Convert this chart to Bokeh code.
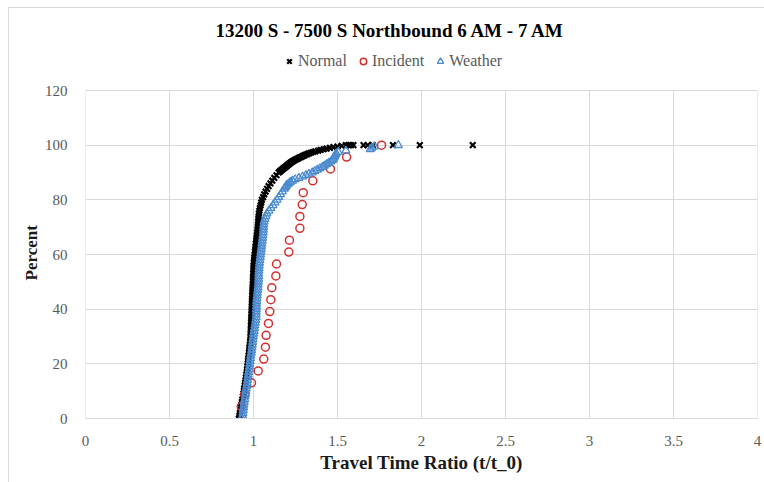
from bokeh.plotting import figure
from bokeh.models import Range1d, FixedTicker, Label, Legend, LegendItem, Title
from bokeh.embed import file_html
from bokeh.resources import INLINE

title_text = "13200 S - 7500 S Northbound  6 AM - 7 AM"
x_label = "Travel Time Ratio (t/t_0)"
y_label = "Percent"
series_names = ["Normal", "Incident", "Weather"]
x_ticks = [0, 0.5, 1, 1.5, 2, 2.5, 3, 3.5, 4]
x_tick_labels = ["0", "0.5", "1", "1.5", "2", "2.5", "3", "3.5", "4"]
y_ticks = [0, 20, 40, 60, 80, 100, 120]

normal_ratio = [
    0.913, 0.916, 0.919, 0.922, 0.925, 0.928, 0.931, 0.934, 0.937, 0.940,
    0.943, 0.945, 0.948, 0.950, 0.953, 0.955, 0.957, 0.960, 0.962, 0.964,
    0.966, 0.967, 0.969, 0.971, 0.973, 0.975, 0.976, 0.978, 0.980, 0.982,
    0.983, 0.983, 0.984, 0.985, 0.985, 0.986, 0.987, 0.987, 0.988, 0.989,
    0.989, 0.990, 0.991, 0.991, 0.992, 0.993, 0.994, 0.994, 0.995, 0.996,
    0.997, 0.997, 0.998, 0.999, 1.000, 1.000, 1.001, 1.002, 1.004, 1.005,
    1.007, 1.009, 1.011, 1.012, 1.014, 1.016, 1.018, 1.020, 1.022, 1.024,
    1.025, 1.027, 1.028, 1.029, 1.031, 1.032, 1.035, 1.038, 1.042, 1.046,
    1.050, 1.057, 1.064, 1.072, 1.081, 1.090, 1.101, 1.112, 1.124, 1.137,
    1.150,
    1.155, 1.159, 1.164, 1.169, 1.174, 1.179, 1.184, 1.189,
    1.194, 1.199, 1.204, 1.209, 1.214, 1.219, 1.225, 1.230,
    1.237, 1.245, 1.252, 1.260, 1.268, 1.276, 1.285, 1.293,
    1.302, 1.311, 1.320, 1.330, 1.342, 1.355, 1.368, 1.385,
    1.400, 1.418, 1.435, 1.455, 1.475, 1.500, 1.525, 1.550,
    1.565, 1.580, 1.595, 1.655, 1.680, 1.710, 1.830, 1.990, 2.305,
]
normal_pct = [
    0, 1, 2, 3, 4, 5, 6, 7, 8, 9,
    10, 11, 12, 13, 14, 15, 16, 17, 18, 19,
    20, 21, 22, 23, 24, 25, 26, 27, 28, 29,
    30, 31, 32, 33, 34, 35, 36, 37, 38, 39,
    40, 41, 42, 43, 44, 45, 46, 47, 48, 49,
    50, 51, 52, 53, 54, 55, 56, 57, 58, 59,
    60, 61, 62, 63, 64, 65, 66, 67, 68, 69,
    70, 71, 72, 73, 74, 75, 76, 77, 78, 79,
    80, 81, 82, 83, 84, 85, 86, 87, 88, 89,
    90,
    90.25, 90.5, 90.75, 91, 91.25, 91.5, 91.75, 92,
    92.25, 92.5, 92.75, 93, 93.25, 93.5, 93.75, 94,
    94.25, 94.5, 94.75, 95, 95.25, 95.5, 95.75, 96,
    96.25, 96.5, 96.75, 97, 97.25, 97.5, 97.75, 98,
    98.25, 98.5, 98.75, 99, 99.25, 99.5, 99.75, 100,
    100, 100, 100, 100, 100, 100, 100, 100, 100,
]

incident_ratio = [
    0.927, 0.948, 0.988, 1.028, 1.061, 1.071, 1.075, 1.089, 1.097, 1.103,
    1.109, 1.133, 1.137, 1.210, 1.214, 1.276, 1.276, 1.290, 1.296, 1.353,
    1.458, 1.554, 1.762,
]
incident_pct = [
    4.35, 8.70, 13.04, 17.39, 21.74, 26.09, 30.43, 34.78, 39.13, 43.48,
    47.83, 52.17, 56.52, 60.87, 65.22, 69.57, 73.91, 78.26, 82.61, 86.96,
    91.30, 95.65, 100,
]

weather_ratio = [
    0.933, 0.935, 0.937, 0.939, 0.941, 0.943, 0.945, 0.948, 0.950, 0.953,
    0.955, 0.957, 0.960, 0.962, 0.964, 0.967, 0.969, 0.971, 0.974, 0.976,
    0.978, 0.980, 0.982, 0.984, 0.987, 0.989, 0.991, 0.993, 0.995, 0.997,
    0.999, 1.001, 1.004, 1.006, 1.008, 1.011, 1.013, 1.016, 1.016, 1.017,
    1.017, 1.018, 1.018, 1.019, 1.020, 1.022, 1.023, 1.025, 1.027, 1.028,
    1.030, 1.030, 1.031, 1.031, 1.032, 1.033, 1.034, 1.036, 1.038, 1.040,
    1.042, 1.044, 1.046, 1.048, 1.050, 1.052, 1.054, 1.056, 1.058, 1.059,
    1.060, 1.061, 1.063, 1.068, 1.074, 1.080, 1.092, 1.104, 1.116, 1.128,
    1.140, 1.150, 1.161, 1.172, 1.183,
    1.188, 1.194, 1.200, 1.210, 1.220, 1.232, 1.248, 1.270, 1.292, 1.312,
    1.330, 1.350, 1.365, 1.380, 1.395, 1.410, 1.422, 1.435, 1.447, 1.460,
    1.470, 1.476, 1.480, 1.484, 1.488, 1.492, 1.505, 1.550, 1.695, 1.705,
    1.720, 1.862,
]
weather_pct = [
    0, 1, 2, 3, 4, 5, 6, 7, 8, 9,
    10, 11, 12, 13, 14, 15, 16, 17, 18, 19,
    20, 21, 22, 23, 24, 25, 26, 27, 28, 29,
    30, 31, 32, 33, 34, 35, 36, 37, 38, 39,
    40, 41, 42, 43, 44, 45, 46, 47, 48, 49,
    50, 51, 52, 53, 54, 55, 56, 57, 58, 59,
    60, 61, 62, 63, 64, 65, 66, 67, 68, 69,
    70, 71, 72, 73, 74, 75, 76, 77, 78, 79,
    80, 81, 82, 83, 84,
    84.5, 85, 85.5, 86, 86.5, 87, 87.5, 88, 88.5, 89,
    89.5, 90, 90.5, 91, 91.5, 92, 92.5, 93, 93.5, 94,
    94.5, 95, 95.5, 96, 96.5, 97, 97.5, 98, 98.5, 99,
    99.5, 100,
]

SERIF = "Liberation Serif"
GRID = "#D9D9D9"

# The frame reaches up to the chart's top edge so that the title and the
# legend can sit inside it; the value axis itself only spans 0..120.
p = figure(
    width=756, height=475, title=None,
    x_range=Range1d(0, 4), y_range=Range1d(0, 150),
    output_backend="svg", toolbar_location=None,
    min_border_left=76, min_border_right=8, min_border_top=0, min_border_bottom=65,
    styles={"margin-left": "8px", "margin-top": "7px",
            "border-left": "1px solid #D9D9D9", "border-top": "1px solid #D9D9D9"},
)
p.outline_line_color = None
p.background_fill_color = "white"
p.border_fill_color = "white"

p.xgrid.visible = False
p.ygrid.ticker = FixedTicker(ticks=y_ticks)
p.ygrid.grid_line_color = GRID
# vertical grid lines limited to the value axis extent
p.segment(x0=x_ticks, y0=[y_ticks[0]] * len(x_ticks), x1=x_ticks,
          y1=[y_ticks[-1]] * len(x_ticks), line_color=GRID, line_width=1)

p.xaxis.ticker = FixedTicker(ticks=x_ticks)
p.xaxis.major_label_overrides = {t: s for t, s in zip(x_ticks, x_tick_labels)}
p.yaxis.ticker = FixedTicker(ticks=y_ticks)

for ax in (p.xaxis[0], p.yaxis[0]):
    ax.major_tick_line_color = None
    ax.minor_tick_line_color = None
    ax.major_label_text_font = SERIF
    ax.major_label_text_font_size = "15px"
    ax.major_label_text_color = "#595959"
    ax.axis_label_text_font = SERIF
    ax.axis_label_text_font_style = "bold"
    ax.axis_label_text_color = "#1A1A1A"
p.xaxis.axis_label_text_font_size = "19px"
p.xaxis.axis_line_color = GRID
p.yaxis.axis_line_color = None
p.xaxis.axis_label = x_label
p.xaxis.major_label_standoff = 11
p.yaxis.major_label_standoff = 12
p.xaxis.axis_label_standoff = 3

# y axis title, placed beside the 0..120 part of the frame
y_title = Title(text=y_label, align="left", offset=138, standoff=2,
                text_font=SERIF, text_font_size="17px", text_font_style="bold",
                text_color="#1A1A1A")
p.add_layout(y_title, "left")

r_normal = p.scatter(normal_ratio, normal_pct, marker="x", size=8,
                     line_color="black", line_width=2.2)
r_incident = p.scatter(incident_ratio, incident_pct, marker="circle", size=8,
                       line_color="#D32F2F", fill_color=None, line_width=1.5)
r_weather = p.scatter(weather_ratio, weather_pct, marker="triangle", size=8,
                      line_color="#4A8AD0", fill_color=None, line_width=1.3)

legend = Legend(
    items=[LegendItem(label=series_names[0], renderers=[r_normal]),
           LegendItem(label=series_names[1], renderers=[r_incident]),
           LegendItem(label=series_names[2], renderers=[r_weather])],
    location=(196, 348), orientation="horizontal",
    border_line_color=None, background_fill_alpha=0,
    padding=0, margin=0, spacing=8,
    glyph_width=16, glyph_height=16, label_standoff=1, label_height=16,
    label_text_font=SERIF, label_text_font_size="16px", label_text_color="#595959",
)
p.add_layout(legend)

p.add_layout(Label(x=307, y=388, x_units="screen", y_units="screen",
                   text=title_text, text_align="center", text_baseline="middle",
                   text_font=SERIF, text_font_size="19px", text_font_style="bold",
                   text_color="black"))

open("out.html", "w").write(file_html(p, INLINE))
